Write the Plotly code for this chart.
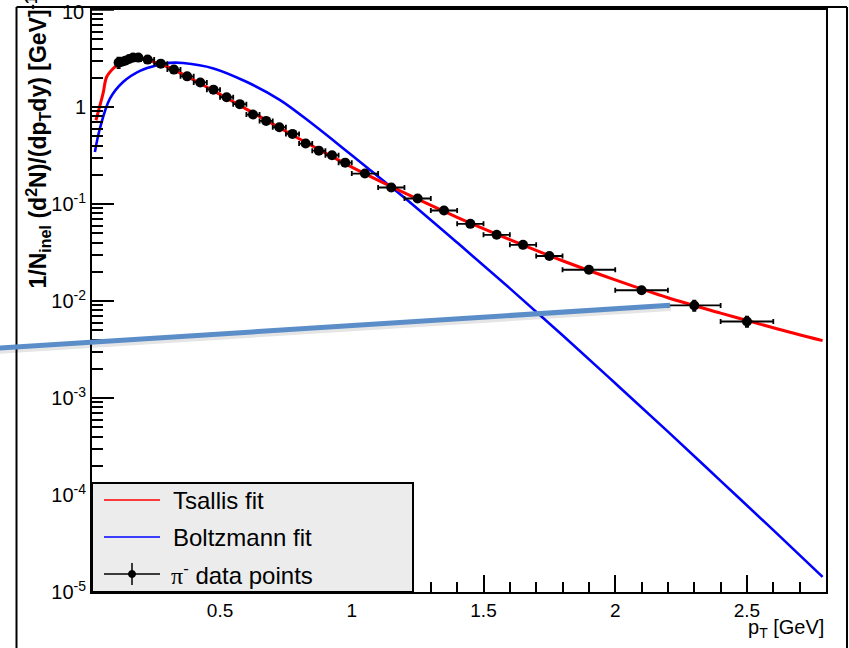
import plotly.graph_objects as go

# ---------------- data ----------------
pt = [0.115, 0.127, 0.14, 0.155, 0.17, 0.19, 0.225, 0.275,
      0.325, 0.375, 0.425, 0.475, 0.525, 0.575, 0.625, 0.675, 0.725, 0.775,
      0.825, 0.875, 0.925, 0.975, 1.05, 1.15, 1.25, 1.35, 1.45, 1.55, 1.65,
      1.75, 1.9, 2.1, 2.3, 2.5]
yields = [2.87, 2.93, 3.0, 3.12, 3.23, 3.23, 3.08, 2.80,
          2.43, 2.07, 1.79, 1.51, 1.26, 1.07, 0.836, 0.719, 0.618, 0.528,
          0.420, 0.355, 0.318, 0.267, 0.206, 0.148, 0.114, 0.0857, 0.0624, 0.0481, 0.0379,
          0.0291, 0.0210, 0.0129, 0.0090, 0.00615]
pt_err = [0.01, 0.01, 0.01, 0.01, 0.01, 0.01, 0.025, 0.025,
          0.025, 0.025, 0.025, 0.025, 0.025, 0.025, 0.025, 0.025, 0.025, 0.025,
          0.025, 0.025, 0.025, 0.025, 0.05, 0.05, 0.05, 0.05, 0.05, 0.05, 0.05,
          0.05, 0.1, 0.1, 0.1, 0.1]
yield_err = [0.35, 0.12, 0.12, 0.12, 0.12, 0.12, 0.1, 0.09,
             0.08, 0.07, 0.06, 0.05, 0.04, 0.035, 0.028, 0.024, 0.02, 0.018,
             0.014, 0.012, 0.011, 0.009, 0.007, 0.005, 0.004, 0.003, 0.0025, 0.002, 0.0016,
             0.0012, 0.0009, 0.0006, 0.0011, 0.00075]

tsallis_x = [0.029, 0.056, 0.07, 0.10, 0.13, 0.17, 0.20, 0.25, 0.30, 0.40, 0.50, 0.60,
             0.70, 0.80, 0.90, 1.00, 1.20, 1.40, 1.60, 1.80, 2.00, 2.20, 2.40, 2.60, 2.787]
tsallis_y = [0.73, 1.38, 2.05, 2.58, 3.0, 3.2, 3.15, 2.9, 2.6, 1.9, 1.35, 0.95,
             0.67, 0.47, 0.335, 0.24, 0.13, 0.073, 0.043, 0.026, 0.0165, 0.0108, 0.0075, 0.0053, 0.0039]

boltz_x = [0.025, 0.044, 0.082, 0.133, 0.196, 0.26, 0.31, 0.36, 0.475, 0.60, 0.728, 0.855,
           0.981, 1.1, 1.2, 1.4, 1.6, 1.8, 2.0, 2.2, 2.4, 2.6, 2.787]
boltz_y = [0.344, 0.60, 1.22, 1.82, 2.36, 2.70, 2.85, 2.84, 2.50, 1.82, 1.18, 0.655,
           0.35, 0.192, 0.116, 0.040, 0.0135, 0.00444, 0.00142, 4.5e-4, 1.40e-4, 4.34e-5, 1.43e-5]

y_tickvals = [1e-5, 1e-4, 1e-3, 1e-2, 1e-1, 1]
y_ticktext = ["10<sup>-5</sup>", "10<sup>-4</sup>", "10<sup>-3</sup>", "10<sup>-2</sup>",
              "10<sup>-1</sup>", "1"]
top_label = "10"
x_tickvals = [0.5, 1.0, 1.5, 2.0, 2.5]
x_ticktext = ["0.5", "1", "1.5", "2", "2.5"]

# ---------------- geometry helpers ----------------
W, H = 849, 648
L, R, T, B = 92, 23, 10, 56
PW, PH = W - L - R, H - T - B


def px(x):
    return (x - L) / PW


def py(y):
    return (H - B - y) / PH


FONT = "Liberation Sans, Arial, Helvetica, sans-serif"

fig = go.Figure()

fig.add_trace(go.Scatter(x=boltz_x, y=boltz_y, mode="lines", line=dict(color="#0000ff", width=2.6, shape="spline"),
                         showlegend=False, hoverinfo="skip"))
fig.add_trace(go.Scatter(x=tsallis_x, y=tsallis_y, mode="lines", line=dict(color="#ff0000", width=3, shape="spline"),
                         showlegend=False, hoverinfo="skip"))
fig.add_trace(go.Scatter(x=pt, y=yields, mode="markers",
                         marker=dict(color="black", size=10),
                         error_x=dict(type="data", array=pt_err, color="black", thickness=1.8, width=2.5),
                         error_y=dict(type="data", array=yield_err, color="black", thickness=1.8, width=2),
                         showlegend=False))

minor_y = [m * 10 ** k for k in range(-5, 1) for m in range(2, 10)]
minor_x = [round(0.1 * i, 1) for i in range(1, 29) if round(0.1 * i, 1) not in (0.5, 1.0, 1.5, 2.0, 2.5)]

fig.update_xaxes(range=[0.014, 2.8], showgrid=False, zeroline=False,
                 showline=True, linecolor="black", linewidth=2, mirror=True,
                 ticks="inside", ticklen=17, tickwidth=1.5, tickcolor="black",
                 tickmode="array", tickvals=x_tickvals, ticktext=x_ticktext,
                 tickfont=dict(family=FONT, size=19, color="black"),
                 minor=dict(ticks="inside", ticklen=10, tickwidth=1.5, tickcolor="black",
                            tickmode="array", tickvals=minor_x, showgrid=False))
fig.update_yaxes(type="log", range=[-5, 1], showgrid=False, zeroline=False,
                 showline=True, linecolor="black", linewidth=2, mirror=True,
                 ticks="inside", ticklen=22, tickwidth=1.5, tickcolor="black",
                 tickmode="array", tickvals=y_tickvals, ticktext=y_ticktext,
                 tickfont=dict(family=FONT, size=20, color="black"),
                 minor=dict(ticks="inside", ticklen=11, tickwidth=1.5, tickcolor="black",
                            tickmode="array", tickvals=minor_y, showgrid=False))

shapes = []
# outer frame
for (x0, y0, x1, y1) in [(16.5, 7, 847, 7), (16.5, 7, 16.5, 660), (847, 7, 847, 660)]:
    shapes.append(dict(type="line", xref="paper", yref="paper", x0=px(x0), y0=py(y0), x1=px(x1), y1=py(y1),
                       line=dict(color="black", width=2), layer="above"))
# legend box
shapes.append(dict(type="rect", xref="paper", yref="paper", x0=px(92), y0=py(592), x1=px(413), y1=py(483),
                   fillcolor="#ececec", line=dict(color="black", width=2), layer="above"))
# legend samples
shapes.append(dict(type="line", xref="paper", yref="paper", x0=px(104), x1=px(160), y0=py(500), y1=py(500),
                   line=dict(color="#ff0000", width=1.5), layer="above"))
shapes.append(dict(type="line", xref="paper", yref="paper", x0=px(104), x1=px(160), y0=py(537), y1=py(537),
                   line=dict(color="#0000ff", width=1.5), layer="above"))
shapes.append(dict(type="line", xref="paper", yref="paper", x0=px(104), x1=px(160), y0=py(574), y1=py(574),
                   line=dict(color="black", width=1.5), layer="above"))
shapes.append(dict(type="line", xref="paper", yref="paper", x0=px(132), x1=px(132), y0=py(563), y1=py(585),
                   line=dict(color="black", width=1.5), layer="above"))
shapes.append(dict(type="circle", xref="paper", yref="paper", x0=px(128.5), x1=px(135.5), y0=py(570.5), y1=py(577.5),
                   fillcolor="black", line=dict(color="black", width=1), layer="above"))
# major tick at the top (10)
shapes.append(dict(type="line", xref="paper", yref="paper", x0=0, x1=px(114), y0=1, y1=1,
                   line=dict(color="black", width=1.5), layer="above"))
# blue annotation stroke with soft shadow
shapes.append(dict(type="line", xref="paper", yref="paper", x0=px(-5), y0=py(351), x1=px(671), y1=py(308),
                   line=dict(color="rgba(0,0,0,0.10)", width=6), layer="above"))
shapes.append(dict(type="line", xref="paper", yref="paper", x0=px(-5), y0=py(348.3), x1=px(670), y1=py(305.3),
                   line=dict(color="#5b8ec8", width=5), layer="above"))

annotations = [
    dict(xref="paper", yref="paper", x=px(86), y=py(12), xanchor="right", yanchor="middle",
         text=top_label, showarrow=False, font=dict(family=FONT, size=20, color="black")),
    dict(xref="paper", yref="paper", x=px(171), y=py(500), xanchor="left", yanchor="middle",
         text="Tsallis fit", showarrow=False, font=dict(family=FONT, size=24, color="black")),
    dict(xref="paper", yref="paper", x=px(171), y=py(537), xanchor="left", yanchor="middle",
         text="Boltzmann fit", showarrow=False, font=dict(family=FONT, size=24, color="black")),
    dict(xref="paper", yref="paper", x=px(169), y=py(574), xanchor="left", yanchor="middle",
         text="<span style='font-family:Liberation Serif'>π</span><sup>-</sup> data points", showarrow=False,
         font=dict(family=FONT, size=24, color="black")),
    dict(xref="paper", yref="paper", x=px(826), y=py(628), xanchor="right", yanchor="middle",
         text="p<sub>T</sub> [GeV]", showarrow=False, font=dict(family=FONT, size=20, color="black")),
    dict(xref="paper", yref="paper", x=px(38), y=py(291), xanchor="center", yanchor="bottom", textangle=-90,
         text="<b>1/N<sub>inel</sub> (d<sup>2</sup>N)/(dp<sub>T</sub>dy) [GeV]<sup>-1</sup></b>", showarrow=False,
         font=dict(family=FONT, size=23, color="black")),
]

fig.update_layout(width=W, height=H, margin=dict(l=L, r=R, t=T, b=B, autoexpand=False),
                  plot_bgcolor="white", paper_bgcolor="white", showlegend=False,
                  shapes=shapes, annotations=annotations)

fig.write_html("out.html", config={"displayModeBar": False},
               post_script="document.body.style.margin='0px';")
